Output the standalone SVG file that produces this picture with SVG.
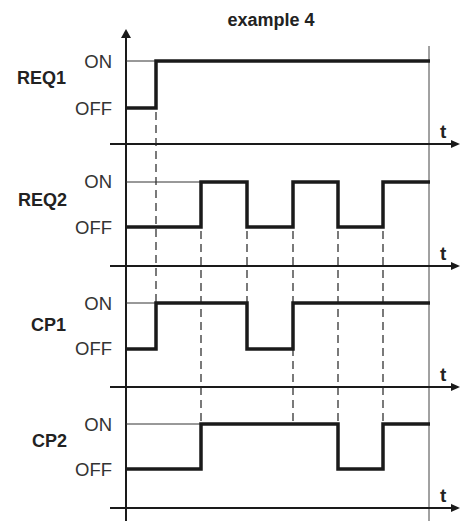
<svg xmlns="http://www.w3.org/2000/svg" width="461" height="523" viewBox="0 0 461 523">
<style>
.lbl{font-family:"Liberation Sans",Arial,sans-serif;font-weight:bold;font-size:18px;fill:#222;text-anchor:end}
.lvl{font-family:"Liberation Sans",Arial,sans-serif;font-size:18.5px;fill:#333;text-anchor:end}
.t{font-family:"Liberation Sans",Arial,sans-serif;font-weight:bold;font-size:19px;fill:#222}
.ttl{font-family:"Liberation Sans",Arial,sans-serif;font-weight:bold;font-size:18px;fill:#222;text-anchor:middle}
.sig{fill:none;stroke:#1a1a1a;stroke-width:3.5;stroke-linejoin:miter}
.ref{stroke:#333;stroke-width:1}
.ax{stroke:#1a1a1a;stroke-width:2}
.dash{stroke:#222;stroke-width:1.2;stroke-dasharray:8 5;fill:none}
</style>
<rect width="461" height="523" fill="#fff"/>
<text x="271" y="26" class="ttl">example 4</text>

<g id="axes">
<line class="ax" x1="126" y1="37" x2="126" y2="521"/>
<polygon points="126,29 121,38 131,38" fill="#1a1a1a"/>
<line x1="429" y1="46" x2="429" y2="521" stroke="#444" stroke-width="1"/>
<line class="ax" x1="110" y1="144" x2="452" y2="144"/>
<polygon points="460,144 451,140 451,148" fill="#1a1a1a"/>
<text x="440" y="138" class="t">t</text>
<line class="ax" x1="110" y1="266" x2="452" y2="266"/>
<polygon points="460,266 451,262 451,270" fill="#1a1a1a"/>
<text x="440" y="260" class="t">t</text>
<line class="ax" x1="110" y1="387" x2="452" y2="387"/>
<polygon points="460,387 451,383 451,391" fill="#1a1a1a"/>
<text x="440" y="381" class="t">t</text>
<line class="ax" x1="110" y1="508" x2="452" y2="508"/>
<polygon points="460,508 451,504 451,512" fill="#1a1a1a"/>
<text x="440" y="502" class="t">t</text>
</g>

<g id="connectors">
<line class="dash" x1="156" y1="112" x2="156" y2="303"/>
<line class="dash" x1="201" y1="231" x2="201" y2="424"/>
<line class="dash" x1="247" y1="231" x2="247" y2="303"/>
<line class="dash" x1="293" y1="231" x2="293" y2="424"/>
<line class="dash" x1="338" y1="231" x2="338" y2="424"/>
<line class="dash" x1="383" y1="231" x2="383" y2="424"/>
</g>

<g id="REQ1">
<text x="66" y="84" class="lbl">REQ1</text>
<text x="112" y="68" class="lvl">ON</text>
<text x="112" y="115" class="lvl">OFF</text>
<line class="ref" x1="126" y1="61" x2="156" y2="61"/>
<polyline class="sig" points="126,108 156,108 156,61 430,61"/>
</g>

<g id="REQ2">
<text x="67" y="206" class="lbl">REQ2</text>
<text x="112" y="188" class="lvl">ON</text>
<text x="112" y="234" class="lvl">OFF</text>
<line class="ref" x1="126" y1="182" x2="201" y2="182"/>
<polyline class="sig" points="126,227 201,227 201,182 247,182 247,227 293,227 293,182 338,182 338,227 383,227 383,182 430,182"/>
</g>

<g id="CP1">
<text x="66" y="331" class="lbl">CP1</text>
<text x="112" y="310" class="lvl">ON</text>
<text x="112" y="355" class="lvl">OFF</text>
<line class="ref" x1="126" y1="303" x2="156" y2="303"/>
<polyline class="sig" points="126,349 156,349 156,303 247,303 247,349 293,349 293,303 430,303"/>
</g>

<g id="CP2">
<text x="67" y="447" class="lbl">CP2</text>
<text x="112" y="431" class="lvl">ON</text>
<text x="112" y="476" class="lvl">OFF</text>
<line class="ref" x1="126" y1="424" x2="201" y2="424"/>
<polyline class="sig" points="126,469 201,469 201,424 338,424 338,469 383,469 383,424 430,424"/>
</g>
</svg>
